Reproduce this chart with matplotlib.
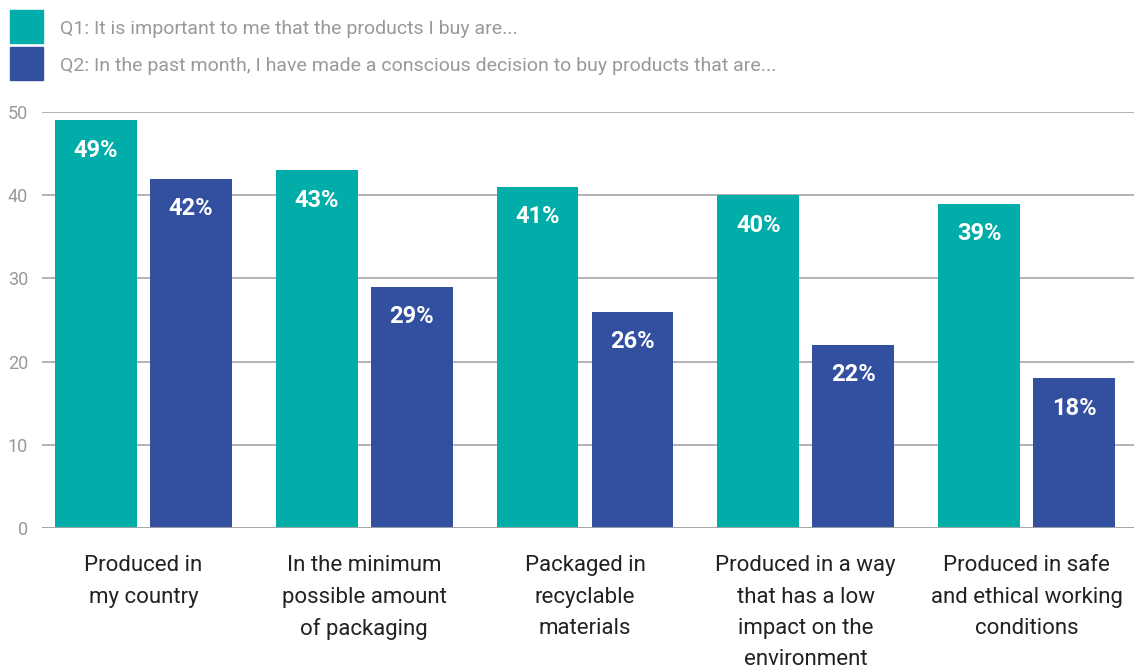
import matplotlib
matplotlib.use("Agg")
import matplotlib.pyplot as plt
from matplotlib.patches import Rectangle
import numpy as np

plt.rcParams['font.family'] = ['Liberation Sans Narrow', 'Roboto', 'DejaVu Sans']

# survey data
categories = ["Produced in\nmy country",
              "In the minimum\npossible amount\nof packaging",
              "Packaged in\nrecyclable\nmaterials",
              "Produced in a way\nthat has a low\nimpact on the\nenvironment",
              "Produced in safe\nand ethical working\nconditions"]
q1_values = [49, 43, 41, 40, 39]
q2_values = [42, 29, 26, 22, 18]
series_labels = ["Q1: It is important to me that the products I buy are...",
                 "Q2: In the past month, I have made a conscious decision to buy products that are..."]
yticks = [0, 10, 20, 30, 40, 50]

TEAL = "#00ADA8"
BLUE = "#334FA0"
GRID = "#A6A6A6"

fig = plt.figure(figsize=(11.34, 6.69), dpi=100)
ax = fig.add_axes([0.037, 0.2108, 0.963, 0.6218])

x = np.arange(len(categories))
w = 0.371
off = 0.215
b1 = ax.bar(x - off, q1_values, w, color=TEAL, zorder=3)
b2 = ax.bar(x + off, q2_values, w, color=BLUE, zorder=3)

# value labels inside the bars
for bars, vals in ((b1, q1_values), (b2, q2_values)):
    for bar, v in zip(bars, vals):
        ax.text(bar.get_x() + bar.get_width() / 2, v - 3.6, f"{v}%",
                ha="center", va="center", color="white",
                fontsize=17, fontweight="bold", zorder=4)

ax.set_xlim(-0.46, 4.487)
ax.set_ylim(0, 50)
ax.set_yticks(yticks)
ax.set_yticklabels([str(t) for t in yticks], color="#999999", fontsize=13)
ax.tick_params(axis="y", length=0, pad=10)
ax.set_xticks([])
ax.grid(axis="y", color=GRID, linewidth=1.2, zorder=0)
for s in ax.spines.values():
    s.set_visible(False)
ax.axhline(0, color=GRID, linewidth=2, zorder=5)

# category names under each group
for xi, c in zip(x, categories):
    ax.text(xi, -3.3, c, ha="center", va="top", fontsize=16,
            color="#222222", linespacing=1.63, clip_on=False)

# legend at top left
for i, (col, lab) in enumerate(zip([TEAL, BLUE], series_labels)):
    y0 = 1 - (10 + i * 37) / 669
    fig.patches.append(Rectangle((10 / 1134, y0 - 33 / 669), 33 / 1134, 33 / 669,
                                 transform=fig.transFigure, color=col))
    fig.text(60 / 1134, y0 - 19 / 669, lab, ha="left", va="center",
             fontsize=14, color="#999999")

fig.savefig("out.png", dpi=100)
